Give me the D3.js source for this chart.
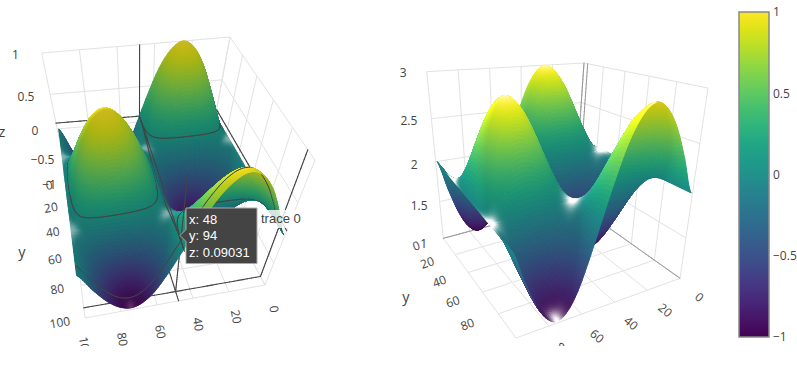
<!DOCTYPE html>
<html>
<head>
<meta charset="utf-8">
<script src="https://cdn.jsdelivr.net/npm/d3@7"></script>
<style>
  html, body { margin: 0; padding: 0; background: #fff; overflow: hidden; }
  text { font-family: "Open Sans", sans-serif; fill: #444; }
</style>
</head>
<body>
<div id="d3-container"></div>
<script>
// Values
const xValues = [0, 6.2, 12.4, 18.6, 24.8, 30.9, 37.1, 43.3, 49.5, 55.7, 61.9, 68.1, 74.3, 80.4, 86.6, 92.8, 99];
const yValues = [0, 6.2, 12.4, 18.6, 24.8, 30.9, 37.1, 43.3, 49.5, 55.7, 61.9, 68.1, 74.3, 80.4, 86.6, 92.8, 99];
const zValues = [
  [0, .38, .71, .92, 1, .92, .71, .38, 0, -.38, -.71, -.92, -1, -.92, -.71, -.38, 0],
  [0, .35, .65, .85, .92, .85, .65, .35, 0, -.35, -.65, -.85, -.92, -.85, -.65, -.35, 0],
  [0, .27, .5, .65, .71, .65, .5, .27, 0, -.27, -.5, -.65, -.71, -.65, -.5, -.27, 0],
  [0, .14, .27, .35, .38, .35, .27, .14, 0, -.14, -.27, -.35, -.38, -.35, -.27, -.14, 0],
  [0, 0, 0, 0, 0, 0, 0, 0, 0, 0, 0, 0, 0, 0, 0, 0, 0],
  [0, -.14, -.27, -.35, -.38, -.35, -.27, -.14, 0, .14, .27, .35, .38, .35, .27, .14, 0],
  [0, -.27, -.5, -.65, -.71, -.65, -.5, -.27, 0, .27, .5, .65, .71, .65, .5, .27, 0],
  [0, -.35, -.65, -.85, -.92, -.85, -.65, -.35, 0, .35, .65, .85, .92, .85, .65, .35, 0],
  [0, -.38, -.71, -.92, -1, -.92, -.71, -.38, 0, .38, .71, .92, 1, .92, .71, .38, 0],
  [0, -.35, -.65, -.85, -.92, -.85, -.65, -.35, 0, .35, .65, .85, .92, .85, .65, .35, 0],
  [0, -.27, -.5, -.65, -.71, -.65, -.5, -.27, 0, .27, .5, .65, .71, .65, .5, .27, 0],
  [0, -.14, -.27, -.35, -.38, -.35, -.27, -.14, 0, .14, .27, .35, .38, .35, .27, .14, 0],
  [0, 0, 0, 0, 0, 0, 0, 0, 0, 0, 0, 0, 0, 0, 0, 0, 0],
  [0, .14, .27, .35, .38, .35, .27, .14, 0, -.14, -.27, -.35, -.38, -.35, -.27, -.14, 0],
  [0, .27, .5, .65, .71, .65, .5, .27, 0, -.27, -.5, -.65, -.71, -.65, -.5, -.27, 0],
  [0, .35, .65, .85, .92, .85, .65, .35, 0, -.35, -.65, -.85, -.92, -.85, -.65, -.35, 0],
  [0, .38, .71, .92, 1, .92, .71, .38, 0, -.38, -.71, -.92, -1, -.92, -.71, -.38, 0]
];
const xTicks = [0, 20, 40, 60, 80, 100];
const yTicks = [0, 20, 40, 60, 80, 100];
const yLabelsRight = [0, 20, 40, 60, 80]; // the 100 falls below the frame on the right
const zTicksLeft = [-1, -0.5, 0, 0.5, 1];
const zTicksRight = [1, 1.5, 2, 2.5, 3];
const colorbarTicks = [-1, -0.5, 0, 0.5, 1];
const hoverPoint = { x: 48, y: 94, z: 0.09031 };
const hoverLines = ["x: 48", "y: 94", "z: 0.09031"];
const rightOffset = 2;

const width = 797, height = 370, clipBottom = 346;
const steps = 8; // sub cells per data cell, for the shading

// corners are [x, y, z] = 0 low / 1 high, taken from the box in the picture
const scenes = [
  {
    id: "left",
    zDomain: [-1, 1], zTicks: zTicksLeft, offset: 0,
    clip: [0, 0, 345, clipBottom],
    corners: {
      "1,0,1": [41.7, 53], "0,0,1": [230, 37], "0,1,1": [315, 160], "1,1,1": [58.7, 215.7],
      "1,0,0": [68.3, 183.7], "0,0,0": [205, 172.3], "0,1,0": [265, 285], "1,1,0": [85, 318]
    },
    depth: { base: 1, x: 0, y: -0.22, z: -0.28 },
    labels: { xAt: 1.16, yAt: 1.14, zAt: 1.14, xRotate: 80, yRotate: -10, xShift: [-4, 0], yShift: [0, 0], yTicks },
    titles: [{ t: "z", x: 2, y: 137 }, { t: "y", x: 22, y: 257 }],
    ambient: 0.8, diffuse: 0.35, zLift: 0, light: [0.15, -1, 0], specK: 0.45, sigma: 0.6,
    specByZ: d3.scaleLinear().domain([-1, 0, 0.5, 1]).range([0.6, 1, 0, 0]).clamp(true),
    spikes: [
      { color: "#444", w: 1.1, from: [null, 94, -1] }, { color: "#444", w: 1.1, from: [48, null, -1] },
      { color: "#444", w: 1.1, from: [48, 0, null] }, { color: "#444", w: 1.1, from: [null, 0, 0.09031] },
      { color: "#444", w: 1.1, from: [0, 94, null] }, { color: "#444", w: 1.1, from: [0, null, 0.09031] },
      { color: "#444", w: 1.1, from: [48, null, 0.09031] }, { color: "#444", w: 1.1, from: [48, 94, null] }
    ],
    contours: true
  },
  {
    id: "right",
    zDomain: [1, 3], zTicks: zTicksRight, offset: rightOffset,
    clip: [385, 0, 340, clipBottom],
    corners: {
      "1,0,1": [426.7, 71.7], "0,0,1": [584, 63], "0,1,1": [708, 88], "1,1,1": [505, 148],
      "1,0,0": [443.3, 238.3], "0,0,0": [574.3, 203.3], "0,1,0": [680, 278.3], "1,1,0": [516, 338]
    },
    depth: { base: 1, x: 0, y: -0.22, z: -0.15 },
    labels: { xAt: 1.15, yAt: 1.16, zAt: 1.15, xRotate: 40, yRotate: -20, xShift: [-2, 4], yShift: [-6, 2], yTicks: yLabelsRight },
    titles: [{ t: "y", x: 406, y: 302 }],
    ambient: 0.86, diffuse: 0.3, zLift: 0.2, light: [0.3, -1, 0], specK: 1.3, sigma: 0.8,
    specByZ: d3.scaleLinear().domain([-1, 0, 0.5, 1]).range([1, 1, 0.05, 0.5]).clamp(true),
    spikes: [
      { color: "#999", w: 1, from: [0, 0, null] }, { color: "#999", w: 1, from: [0, 4, null] },
      { color: "#999", w: 1, from: [null, 0, 1] }, { color: "#999", w: 1, from: [0, null, 1] }
    ],
    contours: false
  }
];

const xScale = d3.scaleLinear().domain([0, 100]).range([0, 1]);
const yScale = d3.scaleLinear().domain([0, 100]).range([0, 1]);
const colorScale = d3.scaleSequential(d3.interpolateViridis).domain([-1, 1]);
const last = zValues.length - 1;

// Catmull-Rom between the grid values, so the shaded surface stays smooth
function cr(a, b, c, d, t) {
  return 0.5 * (2 * b + (c - a) * t + (2 * a - 5 * b + 4 * c - d) * t * t + (3 * b - a - 3 * c + d) * t * t * t);
}
function zAt(gx, gy) {
  const ix = Math.min(Math.floor(gx), last - 1), iy = Math.min(Math.floor(gy), last - 1);
  const tx = gx - ix, ty = gy - iy;
  const row = r => {
    const v = zValues[Math.max(0, Math.min(last, r))];
    return cr(v[Math.max(0, ix - 1)], v[ix], v[ix + 1], v[Math.min(last, ix + 2)], tx);
  };
  return cr(row(iy - 1), row(iy), row(iy + 1), row(iy + 2), ty);
}
const gridX = d3.scaleLinear().domain([0, xValues[last]]).range([0, last]);
const gridY = d3.scaleLinear().domain([0, yValues[last]]).range([0, last]);

function makeProject(scene) {
  const zScale = d3.scaleLinear().domain(scene.zDomain).range([0, 1]);
  const { base, x: dx, y: dy, z: dz } = scene.depth;
  const keys = Object.keys(scene.corners).map(k => {
    const b = k.split(",").map(Number);
    return { b, p: scene.corners[k], w: base + dx * b[0] + dy * b[1] + dz * b[2] };
  });
  // returns screen x, screen y, depth (bigger is further away)
  const unit = (u, v, t) => {
    let sx = 0, sy = 0, sw = 0;
    keys.forEach(c => {
      const m = (c.b[0] ? u : 1 - u) * (c.b[1] ? v : 1 - v) * (c.b[2] ? t : 1 - t) * c.w;
      sx += m * c.p[0]; sy += m * c.p[1]; sw += m;
    });
    return [sx / sw, sy / sw, sw];
  };
  return { unit, zScale, at: (x, y, z) => unit(xScale(x), yScale(y), zScale(z)) };
}

const svg = d3.select("#d3-container").append("svg").attr("width", width).attr("height", height);
const defs = svg.append("defs");

const line2 = pts => "M" + pts.map(p => p[0].toFixed(2) + "," + p[1].toFixed(2)).join("L");

function drawScene(scene) {
  const proj = makeProject(scene);
  const off = scene.offset;
  const clipId = "clip-" + scene.id;
  defs.append("clipPath").attr("id", clipId).append("rect")
    .attr("x", scene.clip[0]).attr("y", scene.clip[1]).attr("width", scene.clip[2]).attr("height", scene.clip[3]);
  const g = svg.append("g").attr("clip-path", `url(#${clipId})`);
  const [zLow, zHigh] = scene.zDomain;

  // walls and floor grid
  const gridLines = [];
  xTicks.forEach(x => {
    gridLines.push([proj.at(x, 0, zLow), proj.at(x, 100, zLow)]);
    gridLines.push([proj.at(x, 0, zLow), proj.at(x, 0, zHigh)]);
  });
  yTicks.forEach(y => {
    gridLines.push([proj.at(0, y, zLow), proj.at(100, y, zLow)]);
    gridLines.push([proj.at(0, y, zLow), proj.at(0, y, zHigh)]);
  });
  scene.zTicks.forEach(z => {
    gridLines.push([proj.at(0, 0, z), proj.at(100, 0, z)]);
    gridLines.push([proj.at(0, 0, z), proj.at(0, 100, z)]);
  });
  g.append("g").selectAll("path").data(gridLines).join("path")
    .attr("d", line2).attr("fill", "none").attr("stroke", "#e2e2e2").attr("stroke-width", 1);

  // everything else goes in one depth sorted list
  const items = [];

  scene.spikes.forEach(s => {
    const axis = s.from.indexOf(null);
    const dom = axis === 2 ? scene.zDomain : [0, 100];
    const n = 40;
    for (let i = 0; i < n; i++) {
      const a = s.from.slice(), b = s.from.slice();
      a[axis] = dom[0] + (dom[1] - dom[0]) * i / n;
      b[axis] = dom[0] + (dom[1] - dom[0]) * (i + 1) / n;
      const pa = proj.at(...a), pb = proj.at(...b);
      items.push({ d: line2([pa, pb]), depth: (pa[2] + pb[2]) / 2, fill: "none", stroke: s.color, sw: s.w });
    }
  });

  // sub grid of the surface
  const n = last * steps;
  const sub = d3.range(n + 1).map(j => d3.range(n + 1).map(i => zAt(i / steps, j / steps)));
  const uOf = i => xScale(xValues[last] * i / n), vOf = j => yScale(yValues[last] * j / n);
  const pts = sub.map((r, j) => r.map((z, i) => proj.unit(uOf(i), vOf(j), proj.zScale(z + off))));

  const a0 = proj.unit(0, 0, 0.5), b0 = proj.unit(1, 0, 0.5), c0 = proj.unit(0, 1, 0.5);
  const topSign = Math.sign((b0[0] - a0[0]) * (c0[1] - a0[1]) - (b0[1] - a0[1]) * (c0[0] - a0[0]));
  const dUnit = 0.5 / (uOf(1) - uOf(0));

  for (let j = 0; j < n; j++) {
    for (let i = 0; i < n; i++) {
      const a = pts[j][i], b = pts[j][i + 1], c = pts[j + 1][i + 1], e = pts[j + 1][i];
      const z = (sub[j][i] + sub[j][i + 1] + sub[j + 1][i] + sub[j + 1][i + 1]) / 4;
      const zx = (sub[j][i + 1] + sub[j + 1][i + 1] - sub[j][i] - sub[j + 1][i]) / 2 * dUnit;
      const zy = (sub[j + 1][i] + sub[j + 1][i + 1] - sub[j][i] - sub[j][i + 1]) / 2 * dUnit;
      const top = Math.sign((b[0] - a[0]) * (e[1] - a[1]) - (b[1] - a[1]) * (e[0] - a[0])) === topSign;
      const len = Math.hypot(zx, zy, 1), flip = top ? 1 : -1;
      const nx = -zx / len * flip, ny = -zy / len * flip, nz = flip / len;
      const L = scene.light;
      const lift = top ? scene.zLift * Math.max(0, z) * Math.max(0, z) : 0;
      const lit = scene.ambient + lift + scene.diffuse * Math.max(0, nx * L[0] + ny * L[1] + nz * L[2]);
      const spec = top ? scene.specK * scene.specByZ(z) * Math.exp(-(zx * zx + zy * zy) / (scene.sigma * scene.sigma)) : 0;
      const base = d3.rgb(colorScale(z));
      const mix = v => Math.min(255, v * lit + (255 - v * lit) * Math.min(1, spec));
      const color = d3.rgb(mix(base.r), mix(base.g), mix(base.b)).formatHex();
      items.push({
        d: line2([a, b, c, e]) + "Z",
        depth: (a[2] + b[2] + c[2] + e[2]) / 4,
        fill: color, stroke: color, sw: 1
      });
    }
  }

  if (scene.contours) {
    const pushLine = (p, q) => items.push({
      d: line2([p, q]), depth: (p[2] + q[2]) / 2 - 0.008, fill: "none", stroke: "#444", sw: 1
    });
    // z contour, d3 works on the sub grid
    const rings = d3.contours().size([n + 1, n + 1]).thresholds([hoverPoint.z])(sub.flat())[0].coordinates;
    const onEdge = v => v <= 0.6 || v >= n + 0.4;
    const toPoint = q => proj.unit(uOf(q[0] - 0.5), vOf(q[1] - 0.5), proj.zScale(hoverPoint.z + off));
    rings.forEach(poly => poly.forEach(ring => {
      for (let k = 1; k < ring.length; k++) {
        const p = ring[k - 1], q = ring[k];
        if ((onEdge(p[0]) && onEdge(q[0])) || (onEdge(p[1]) && onEdge(q[1]))) continue;
        pushLine(toPoint(p), toPoint(q));
      }
    }));
    // x and y contours through the hover point
    const gx = gridX(hoverPoint.x), gy = gridY(hoverPoint.y);
    for (let k = 0; k < n; k++) {
      pushLine(proj.at(hoverPoint.x, yValues[last] * k / n, zAt(gx, k / steps)),
        proj.at(hoverPoint.x, yValues[last] * (k + 1) / n, zAt(gx, (k + 1) / steps)));
      pushLine(proj.at(xValues[last] * k / n, hoverPoint.y, zAt(k / steps, gy)),
        proj.at(xValues[last] * (k + 1) / n, hoverPoint.y, zAt((k + 1) / steps, gy)));
    }
  }

  items.sort((p, q) => d3.descending(p.depth, q.depth));
  g.append("g").selectAll("path").data(items).join("path")
    .attr("d", d => d.d).attr("fill", d => d.fill).attr("stroke", d => d.stroke)
    .attr("stroke-width", d => d.sw).attr("stroke-linecap", "round");

  // tick labels
  const fmt = d3.format("~g");
  const lab = scene.labels;
  const put = (data, pos, rotate, shift) => g.append("g").selectAll("text").data(data).join("text")
    .attr("text-anchor", "middle").attr("dy", "0.35em").attr("font-size", 12)
    .attr("transform", d => {
      const p = pos(d);
      return `translate(${p[0] + shift[0]},${p[1] + shift[1]}) rotate(${rotate})`;
    })
    .text(fmt);
  put(xTicks, x => proj.unit(xScale(x), lab.xAt, 0), lab.xRotate, lab.xShift);
  put(lab.yTicks, y => proj.unit(lab.yAt, yScale(y), 0), lab.yRotate, lab.yShift);
  put(scene.zTicks, z => proj.unit(lab.zAt, 0, proj.zScale(z)), 0, [0, 0]);

  g.append("g").selectAll("text").data(scene.titles).join("text")
    .attr("x", d => d.x).attr("y", d => d.y).attr("text-anchor", "middle").attr("font-size", 14.5)
    .text(d => d.t);
}

scenes.forEach(drawScene);

// colorbar
const barX = 739, barW = 30, barTop = 12, barBottom = 337;
const barScale = d3.scaleLinear().domain([-1, 1]).range([barBottom, barTop]);
const gradient = defs.append("linearGradient").attr("id", "viridis-bar")
  .attr("x1", 0).attr("x2", 0).attr("y1", 1).attr("y2", 0);
d3.range(0, 1.001, 0.05).forEach(t => {
  gradient.append("stop").attr("offset", t).attr("stop-color", d3.interpolateViridis(t));
});
svg.append("rect").attr("x", barX).attr("y", barTop).attr("width", barW).attr("height", barBottom - barTop)
  .attr("fill", "url(#viridis-bar)").attr("stroke", "#888").attr("stroke-width", 1.5);
const barAxis = svg.append("g").attr("transform", `translate(${barX + barW},0)`)
  .call(d3.axisRight(barScale).tickValues(colorbarTicks).tickSize(0).tickPadding(4).tickFormat(d3.format("~g")));
barAxis.select(".domain").remove();
barAxis.selectAll("text").attr("font-size", 12).attr("font-family", '"Open Sans", sans-serif').attr("fill", "#444");

// hover label
svg.append("rect").attr("x", 258).attr("y", 210).attr("width", 46).attr("height", 18).attr("fill", "#fff").attr("opacity", 0.8);
const hover = svg.append("g").attr("transform", "translate(186,208)");
hover.append("path")
  .attr("d", d3.line()([[0, 0], [71, 0], [71, 55.5], [0, 55.5], [0, 33.5], [-6, 27.5], [0, 21.5]]) + "Z")
  .attr("fill", "#444").attr("stroke", "#aaa").attr("stroke-width", 1);
hover.selectAll("text.hv").data(hoverLines).join("text").attr("class", "hv")
  .attr("x", 3).attr("y", (d, i) => 15.5 + i * 16.6)
  .style("font-family", '"Liberation Sans", Arial, sans-serif').style("fill", "#fff").attr("font-size", 13)
  .text(d => d);
svg.append("text").attr("x", 261).attr("y", 223)
  .style("font-family", '"Liberation Sans", Arial, sans-serif').attr("font-size", 13).text("trace 0");
</script>
</body>
</html>
